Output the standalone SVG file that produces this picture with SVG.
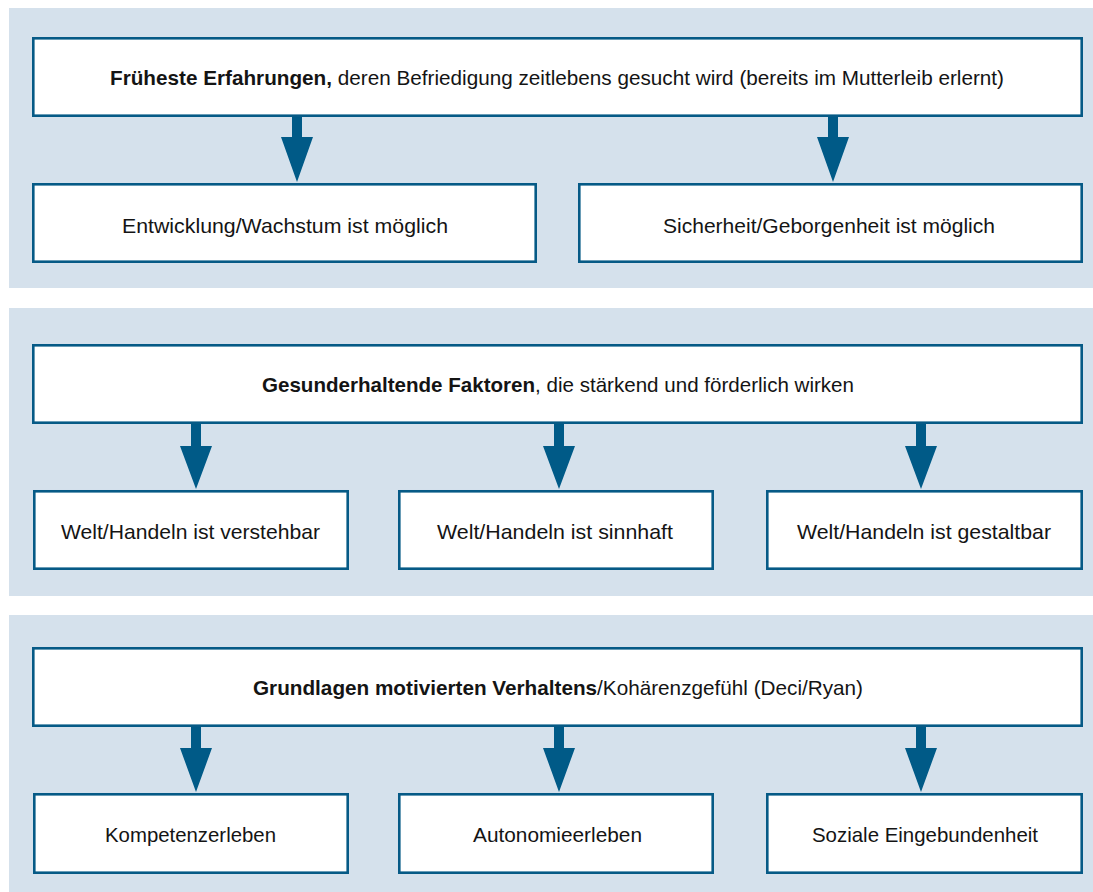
<svg xmlns="http://www.w3.org/2000/svg" width="1093" height="892" viewBox="0 0 1093 892">
<defs>
<style>
.panel{fill:#d5e1ec}
.box{fill:#ffffff;stroke:#065a86;stroke-width:2.6}
.arrow{fill:#005a87}
text{font-family:"Liberation Sans",Arial,sans-serif;font-size:21px;fill:#141414;text-anchor:middle}
.b{font-weight:bold}
</style>
</defs>
<rect width="1093" height="892" fill="#ffffff"/>
<g id="panels">
<rect class="panel" x="9" y="8" width="1084" height="280"/>
<rect class="panel" x="9" y="308" width="1084" height="288"/>
<rect class="panel" x="9" y="615" width="1084" height="277"/>
</g>
<g id="connectors">
<polygon class="arrow" points="292,117 302,117 302,137 313,137 297,182 281,137 292,137"/>
<polygon class="arrow" points="828,117 838,117 838,137 849,137 833,182 817,137 828,137"/>
<polygon class="arrow" points="191,424 201,424 201,446 212,446 196,489 180,446 191,446"/>
<polygon class="arrow" points="554,424 564,424 564,446 575,446 559,489 543,446 554,446"/>
<polygon class="arrow" points="916,424 926,424 926,446 937,446 921,489 905,446 916,446"/>
<polygon class="arrow" points="191,727 201,727 201,748 212,748 196,792 180,748 191,748"/>
<polygon class="arrow" points="554,727 564,727 564,748 575,748 559,792 543,748 554,748"/>
<polygon class="arrow" points="916,727 926,727 926,748 937,748 921,792 905,748 916,748"/>
</g>
<g id="n1">
<rect class="box" x="33.3" y="38.3" width="1048.4" height="77.4"/>
<text x="557" y="85" textLength="894" lengthAdjust="spacingAndGlyphs"><tspan class="b">Früheste Erfahrungen,</tspan> deren Befriedigung zeitlebens gesucht wird (bereits im Mutterleib erlernt)</text>
</g>
<g id="n2">
<rect class="box" x="33.3" y="184.3" width="502.4" height="77.4"/>
<text x="285" y="233" textLength="326" lengthAdjust="spacingAndGlyphs">Entwicklung/Wachstum ist möglich</text>
</g>
<g id="n3">
<rect class="box" x="579.3" y="184.3" width="502.4" height="77.4"/>
<text x="829" y="233" textLength="332" lengthAdjust="spacingAndGlyphs">Sicherheit/Geborgenheit ist möglich</text>
</g>
<g id="n4">
<rect class="box" x="33.3" y="345.3" width="1048.4" height="77.4"/>
<text x="558" y="392" textLength="592" lengthAdjust="spacingAndGlyphs"><tspan class="b">Gesunderhaltende Faktoren</tspan>, die stärkend und förderlich wirken</text>
</g>
<g id="n5">
<rect class="box" x="34.3" y="491.3" width="313.4" height="77.4"/>
<text x="190.5" y="539" textLength="259" lengthAdjust="spacingAndGlyphs">Welt/Handeln ist verstehbar</text>
</g>
<g id="n6">
<rect class="box" x="399.3" y="491.3" width="313.4" height="77.4"/>
<text x="555" y="539" textLength="236" lengthAdjust="spacingAndGlyphs">Welt/Handeln ist sinnhaft</text>
</g>
<g id="n7">
<rect class="box" x="767.3" y="491.3" width="314.4" height="77.4"/>
<text x="924" y="539" textLength="254" lengthAdjust="spacingAndGlyphs">Welt/Handeln ist gestaltbar</text>
</g>
<g id="n8">
<rect class="box" x="33.3" y="648.3" width="1048.4" height="77.4"/>
<text x="558" y="695" textLength="610" lengthAdjust="spacingAndGlyphs"><tspan class="b">Grundlagen motivierten Verhaltens</tspan>/Kohärenzgefühl (Deci/Ryan)</text>
</g>
<g id="n9">
<rect class="box" x="34.3" y="794.3" width="313.4" height="78.4"/>
<text x="190.5" y="842" textLength="171" lengthAdjust="spacingAndGlyphs">Kompetenzerleben</text>
</g>
<g id="n10">
<rect class="box" x="399.3" y="794.3" width="313.4" height="78.4"/>
<text x="557.5" y="842" textLength="169" lengthAdjust="spacingAndGlyphs">Autonomieerleben</text>
</g>
<g id="n11">
<rect class="box" x="767.3" y="794.3" width="314.4" height="78.4"/>
<text x="925" y="842" textLength="226" lengthAdjust="spacingAndGlyphs">Soziale Eingebundenheit</text>
</g>
</svg>
